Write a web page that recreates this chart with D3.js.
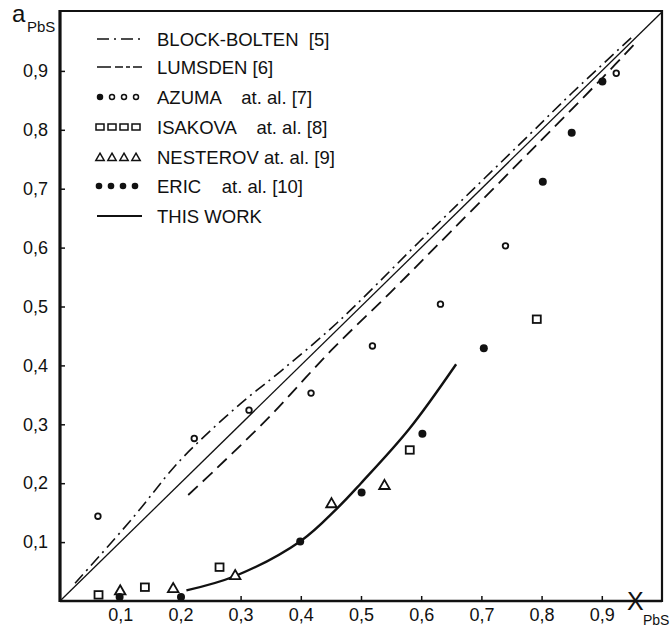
<!DOCTYPE html>
<html><head><meta charset="utf-8">
<script src="https://cdn.jsdelivr.net/npm/d3@7/dist/d3.min.js"></script>
<style>body{margin:0;background:#fff}svg{display:block}text{font-family:"Liberation Sans",Arial,sans-serif;fill:#111}</style>
</head><body><svg id="c" width="672" height="634"></svg>
<script>
// ---- data ----
const xTicks = [0.1,0.2,0.3,0.4,0.5,0.6,0.7,0.8,0.9];
const yTicks = [0.1,0.2,0.3,0.4,0.5,0.6,0.7,0.8,0.9];
const legendLabels = ["BLOCK-BOLTEN  [5]","LUMSDEN [6]","AZUMA    at. al. [7]","ISAKOVA    at. al. [8]","NESTEROV at. al. [9]","ERIC    at. al. [10]","THIS WORK"];
const blockBolten = [[0.025,0.03],[0.12,0.14],[0.19,0.228],[0.23,0.27],[0.30,0.335],[0.37,0.393],[0.46,0.472],[0.60,0.613],[0.78,0.792],[0.85,0.862],[0.955,0.962]];
const lumsden = [[0.213,0.18],[0.26,0.225],[0.35,0.315],[0.45,0.425],[0.55,0.525],[0.65,0.628],[0.80,0.783],[0.90,0.887],[0.96,0.952]];
const ideal = [[0,0],[1,1]];
const thisWork = [[0.21,0.018],[0.29,0.042],[0.40,0.102],[0.46,0.157],[0.50,0.20],[0.58,0.292],[0.658,0.402]];
const azuma = [[0.063,0.144],[0.223,0.276],[0.314,0.324],[0.417,0.353],[0.519,0.433],[0.632,0.504],[0.740,0.603],[0.924,0.896]];
const isakova = [[0.064,0.010],[0.141,0.023],[0.265,0.057],[0.581,0.256],[0.792,0.478]];
const nesterov = [[0.100,0.018],[0.188,0.022],[0.291,0.044],[0.451,0.166],[0.539,0.197]];
const eric = [[0.099,0.007],[0.201,0.007],[0.399,0.101],[0.501,0.184],[0.602,0.284],[0.704,0.429],[0.802,0.712],[0.850,0.795],[0.901,0.882]];

const svg = d3.select("#c");
const x = d3.scaleLinear().domain([0,1]).range([60,662]);
const y = d3.scaleLinear().domain([0,1]).range([601,12]);
const fmt = d => String(d).replace(".", ",");

// axes
const gx = svg.append("g").attr("transform","translate(0,601)")
  .call(d3.axisBottom(x).tickValues(xTicks).tickFormat(fmt).tickSizeInner(-5).tickSizeOuter(0).tickPadding(7));
const gy = svg.append("g").attr("transform","translate(60,0)")
  .call(d3.axisLeft(y).tickValues(yTicks).tickFormat(fmt).tickSizeInner(-5).tickSizeOuter(0).tickPadding(12));
[gx,gy].forEach(g=>{g.select(".domain").remove();g.selectAll(".tick line").attr("stroke","#111").attr("stroke-width",1.5);g.selectAll("text").attr("font-size",18).attr("font-family","Liberation Sans, Arial, sans-serif").attr("fill","#111");});

// frame
const f = svg.append("g").attr("stroke","#111").attr("fill","none");
f.append("line").attr("x1",x(0)).attr("x2",x(0)).attr("y1",y(1)-2).attr("y2",y(0)+1).attr("stroke-width",3.2);
f.append("line").attr("x1",x(0)).attr("x2",x(1)).attr("y1",y(0)).attr("y2",y(0)).attr("stroke-width",2.4);
f.append("line").attr("x1",x(0)).attr("x2",x(1)).attr("y1",y(1)-1).attr("y2",y(1)-1).attr("stroke-width",2);
f.append("line").attr("x1",x(1)).attr("x2",x(1)).attr("y1",y(1)-2).attr("y2",y(0)+1).attr("stroke-width",2.2);

// lines
const line = d3.line().x(d=>x(d[0])).y(d=>y(d[1])).curve(d3.curveCatmullRom);
svg.append("path").datum(blockBolten).attr("d",line).attr("fill","none").attr("stroke","#111").attr("stroke-width",1.6).attr("stroke-dasharray","12,5,2,5");
svg.append("path").datum(lumsden).attr("d",line).attr("fill","none").attr("stroke","#111").attr("stroke-width",1.8).attr("stroke-dasharray","13,7");
svg.append("path").datum(ideal).attr("d",d3.line().x(d=>x(d[0])).y(d=>y(d[1]))).attr("fill","none").attr("stroke","#111").attr("stroke-width",1.3);
svg.append("path").datum(thisWork).attr("d",line).attr("fill","none").attr("stroke","#111").attr("stroke-width",2.4);

// markers
const tri = d3.symbol().type(d3.symbolTriangle).size(48);
const g = svg.append("g");
g.selectAll(".az").data(azuma).join("circle").attr("cx",d=>x(d[0])).attr("cy",d=>y(d[1])).attr("r",2.8).attr("fill","#fff").attr("stroke","#111").attr("stroke-width",1.8);
g.selectAll(".is").data(isakova).join("rect").attr("x",d=>x(d[0])-4).attr("y",d=>y(d[1])-4).attr("width",8).attr("height",7.5).attr("fill","#fff").attr("stroke","#111").attr("stroke-width",1.8);
g.selectAll(".ne").data(nesterov).join("path").attr("transform",d=>`translate(${x(d[0])},${y(d[1])+1})`).attr("d",tri).attr("fill","#fff").attr("stroke","#111").attr("stroke-width",1.8);
g.selectAll(".er").data(eric).join("circle").attr("cx",d=>x(d[0])).attr("cy",d=>y(d[1])).attr("r",4).attr("fill","#111");

// legend
const rows = [39,67,97,127,157,186,216];
const L = svg.append("g");
const lx0 = 97, lx1 = 142, tx = 157;
legendLabels.forEach((t,i)=>{
  L.append("text").attr("x",tx).attr("y",rows[i]).attr("dy","0.36em").attr("font-size",18.5).style("white-space","pre").text(t);
});
L.append("line").attr("x1",lx0).attr("x2",lx1).attr("y1",rows[0]).attr("y2",rows[0]).attr("stroke","#111").attr("stroke-width",1.6).attr("stroke-dasharray","12,5,2,5");
L.append("line").attr("x1",lx0).attr("x2",lx1).attr("y1",rows[1]).attr("y2",rows[1]).attr("stroke","#111").attr("stroke-width",1.6).attr("stroke-dasharray","14,4,8,3,4,3");
L.append("line").attr("x1",lx0).attr("x2",lx1).attr("y1",rows[6]).attr("y2",rows[6]).attr("stroke","#111").attr("stroke-width",2.2);
const lxs = [100,112,124,136];
lxs.forEach((lx,j)=>{
  L.append("circle").attr("cx",lx).attr("cy",rows[2]).attr("r",2.5).attr("fill",j===0?"#111":"#fff").attr("stroke","#111").attr("stroke-width",1.5);
  L.append("rect").attr("x",lx-4).attr("y",rows[3]-3).attr("width",8).attr("height",6).attr("fill","#fff").attr("stroke","#111").attr("stroke-width",1.5);
  L.append("path").attr("transform",`translate(${lx},${rows[4]+1})`).attr("d",d3.symbol().type(d3.symbolTriangle).size(30)).attr("fill","#fff").attr("stroke","#111").attr("stroke-width",1.5);
  L.append("circle").attr("cx",lx-1).attr("cy",rows[5]).attr("r",3.3).attr("fill","#111");
});

// axis titles
svg.append("text").attr("x",12).attr("y",22).attr("font-size",24).text("a");
svg.append("text").attr("x",27).attr("y",32).attr("font-size",15).text("PbS");
svg.append("text").attr("x",627).attr("y",610).attr("font-size",25).text("X");
svg.append("text").attr("x",643).attr("y",625).attr("font-size",14).text("PbS");
</script></body></html>
